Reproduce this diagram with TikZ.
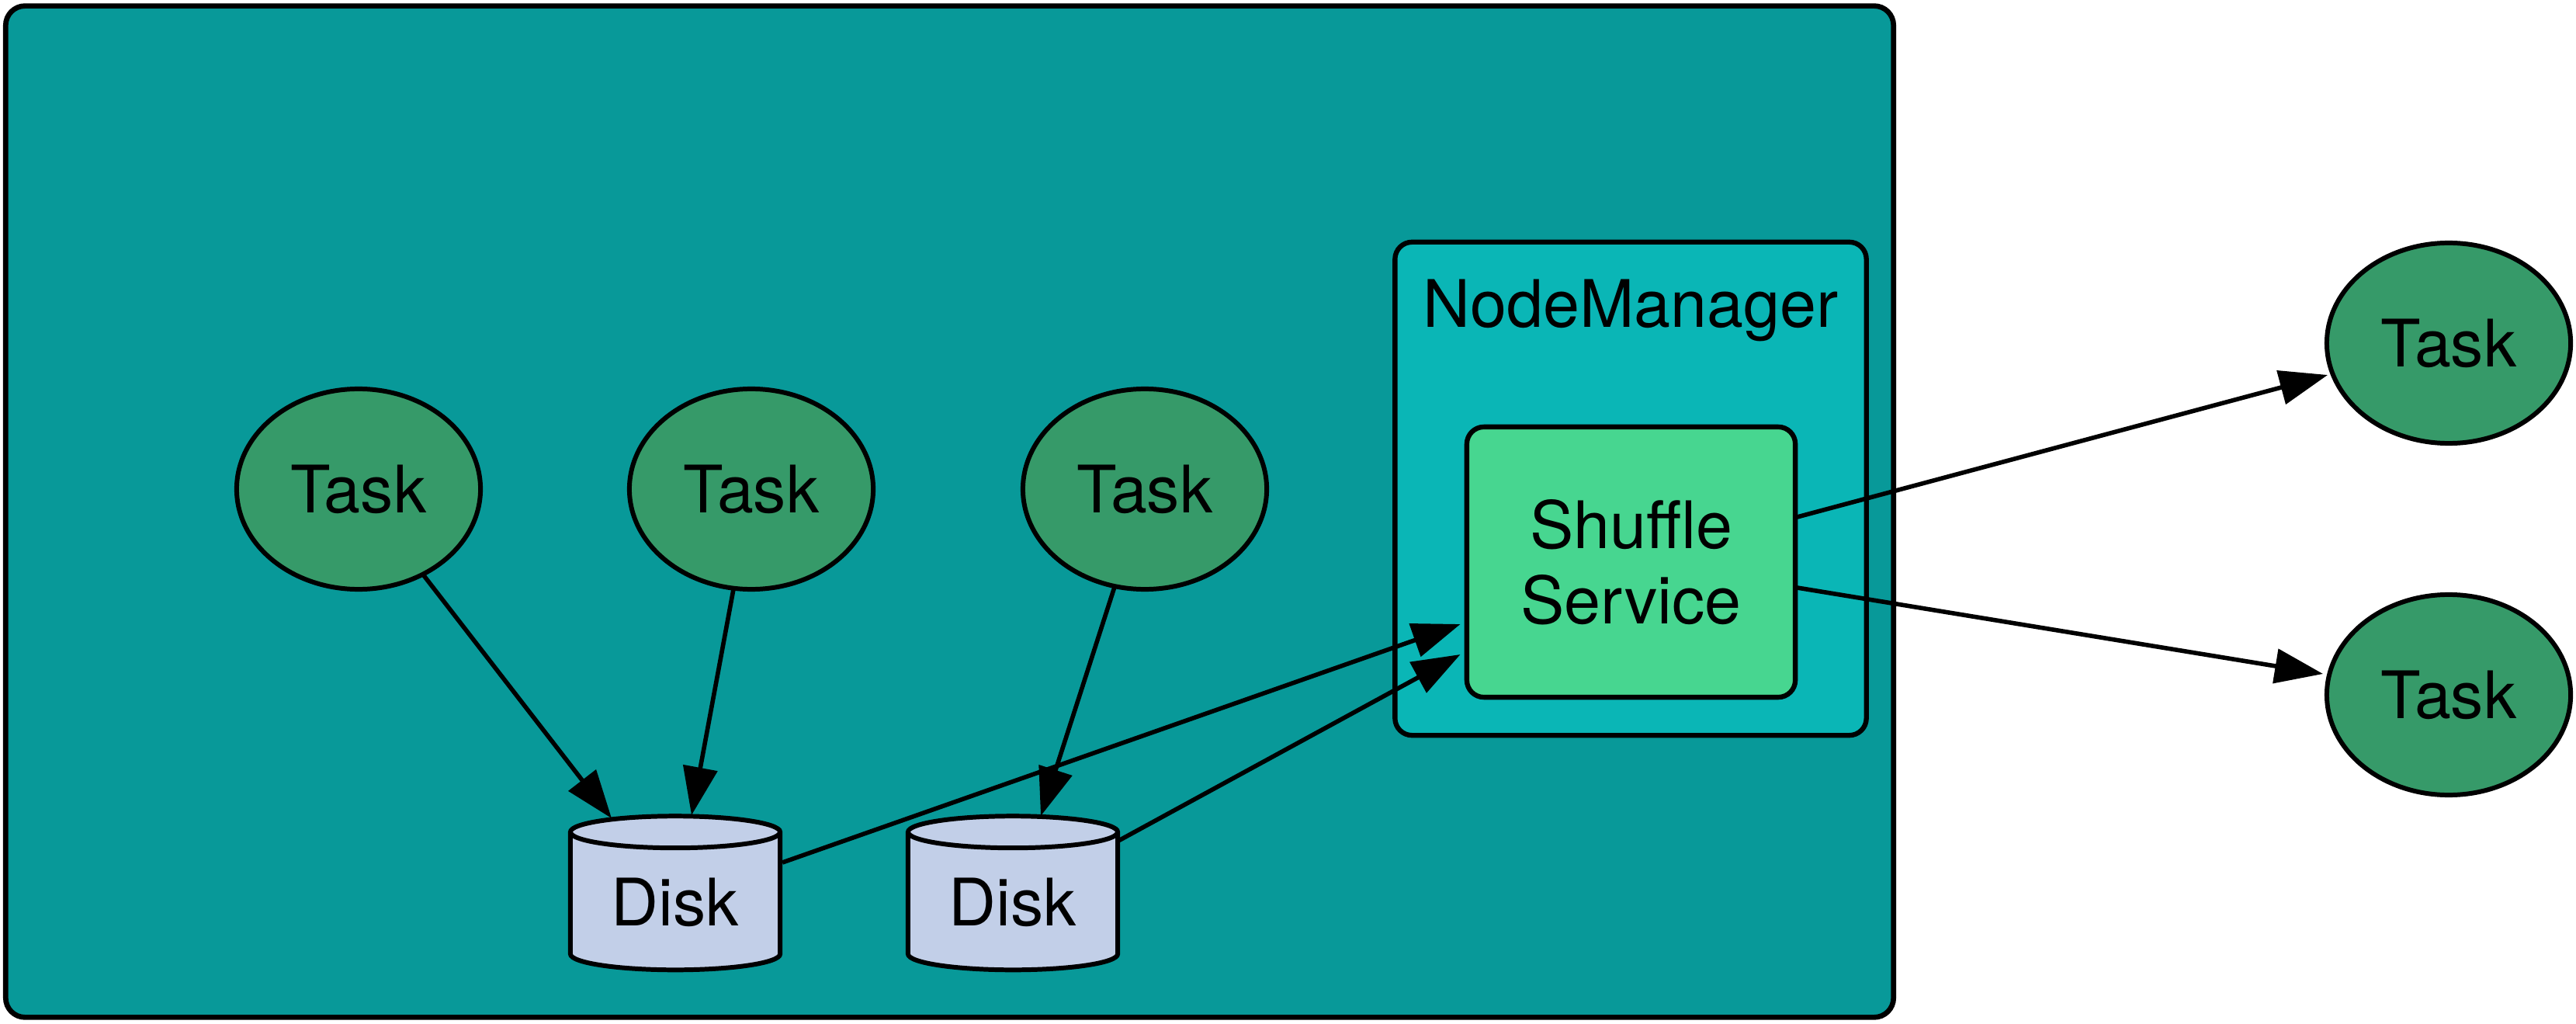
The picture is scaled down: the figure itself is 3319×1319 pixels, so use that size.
\documentclass[tikz,border=0pt]{standalone}
\usepackage{fontspec}
\setmainfont{TeX Gyre Heros}
\usetikzlibrary{shapes.geometric,arrows.meta,calc}
\definecolor{hostc}{HTML}{089999}
\definecolor{nmc}{HTML}{0AB6B6}
\definecolor{ssc}{HTML}{47D690}
\definecolor{taskc}{HTML}{369A69}
\definecolor{diskc}{HTML}{C2CFE8}
\begin{document}
\begin{tikzpicture}[x=0.01cm,y=-0.01cm,
  font=\fontsize{24}{27.5}\selectfont,
  hostbox/.style={draw, line width=1.9pt, fill=hostc, rounded corners=0.25cm, minimum width=24.31cm, minimum height=13.02cm, inner sep=0pt},
  nmbox/.style={draw, line width=1.8pt, fill=nmc, rounded corners=0.22cm, minimum width=6.07cm, minimum height=6.35cm, inner sep=0pt},
  ssbox/.style={draw, line width=1.8pt, fill=ssc, rounded corners=0.22cm, minimum width=4.23cm, minimum height=3.48cm, inner sep=0pt, align=center},
  taskn/.style={draw, line width=1.7pt, fill=taskc, ellipse, minimum width=3.14cm, minimum height=2.58cm, inner sep=0pt},
  diskn/.style={draw, line width=1.7pt, shape=cylinder, shape border rotate=90, aspect=0.25, cylinder uses custom fill, cylinder body fill=diskc, cylinder end fill=diskc, minimum width=2.70cm, minimum height=1.98cm, inner sep=0pt},
  conn/.style={line width=1.6pt, -{Triangle[length=0.62cm,width=0.44cm]}},
  lbl/.style={inner sep=0pt}
]
\useasboundingbox (0,0) rectangle (3319,1319);
\node[hostbox] (host) at (1223.5,659) {};
\node[nmbox] (nm) at (2101,629.5) {};
\node[lbl] (nmlabel) at (2101,400) {NodeManager};
\node[ssbox] (ss) at (2101.5,724) {Shuffle\\Service};
\node[taskn] (t1) at (462,630) {Task};
\node[taskn] (t2) at (968,630) {Task};
\node[taskn] (t3) at (1475,630) {Task};
\node[taskn] (tt) at (3155,442) {Task};
\node[taskn] (tb) at (3155,895) {Task};
\node[diskn] (d1) at (870,1162) {Disk};
\node[diskn] (d2) at (1305,1162) {Disk};
\draw[conn] ($(t1.center)+(83,110)$) -- ($(d1.center)+(-82,-108)$);
\draw[conn] ($(t2.center)+(-23,129)$) -- ($(d1.center)+(21,-112)$);
\draw[conn] ($(t3.center)+(-39,126)$) -- ($(d2.center)+(36,-111)$);
\draw[conn] ($(d1.center)+(138,-51)$) -- ($(ss.center)+(-220,80)$);
\draw[conn] ($(d2.center)+(136,-79)$) -- ($(ss.center)+(-220,119)$);
\draw[conn] ($(ss.center)+(214,-58)$) -- ($(tt.center)+(-156,41)$);
\draw[conn] ($(ss.center)+(214,33)$) -- ($(tb.center)+(-162,-27)$);
\end{tikzpicture}
\end{document}
